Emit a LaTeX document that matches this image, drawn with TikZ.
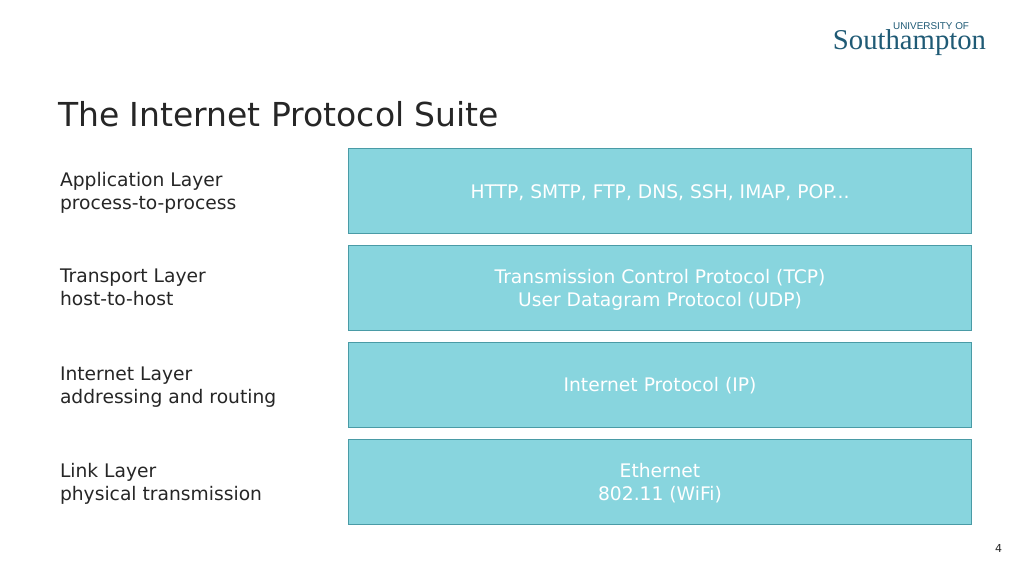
\documentclass[tikz,border=0pt]{standalone}
\usepackage{fontspec}
\setmainfont{DejaVu Sans}
\newfontfamily\logoserif{Liberation Serif}
\newfontfamily\logosans{Liberation Sans}
\usepackage{xcolor}
\usetikzlibrary{positioning}
\definecolor{layerfill}{HTML}{88D5DE}
\definecolor{layerline}{HTML}{4A9BA6}
\definecolor{logoblue}{HTML}{1F5A75}
\definecolor{titleink}{HTML}{262626}
\begin{document}
\begin{tikzpicture}[x=1pt,y=1pt,every node/.style={outer sep=0pt},
    layerbox/.style={draw=layerline,fill=layerfill,line width=1pt,minimum width=623pt,minimum height=85pt,inner sep=0pt},
    layertext/.style={text=white,align=center,font=\fontsize{18.7}{23.3}\selectfont,inner sep=0pt},
    layerlabel/.style={anchor=west,align=left,text=titleink,font=\fontsize{18.7}{23.3}\selectfont,inner sep=0pt}]
    \useasboundingbox (0,0) rectangle (1024,576);

    \node[layerbox] (app) at (660,384.5) {};
    \node[layerbox,below=11.5pt of app] (trans) {};
    \node[layerbox,below=11.5pt of trans] (inet) {};
    \node[layerbox,below=12pt of inet] (link) {};

    \node[layertext,yshift=-1.5pt] (tapp) at (app) {HTTP, SMTP, FTP, DNS, SSH, IMAP, POP...};
    \node[layertext,yshift=-1.5pt] (ttrans) at (trans) {Transmission Control Protocol (TCP)\\User Datagram Protocol (UDP)};
    \node[layertext,yshift=-1.5pt] (tinet) at (inet) {Internet Protocol (IP)};
    \node[layertext,yshift=-1.5pt] (tlink) at (link) {Ethernet\\802.11 (WiFi)};

    \node[layerlabel] (lapp) at (60,383.5) {Application Layer\\process-to-process};
    \node[layerlabel] (ltrans) at (60,289) {Transport Layer\\host-to-host};
    \node[layerlabel] (linet) at (60,189) {Internet Layer\\addressing and routing};
    \node[layerlabel] (llink) at (60,92.5) {Link Layer\\physical transmission};

    \node[anchor=base west,inner sep=0pt,text=titleink,font=\fontsize{33}{36}\selectfont] (title) at (58,449) {The Internet Protocol Suite};
    \node[anchor=base east,inner sep=0pt,font=\fontsize{11}{12}\selectfont,text=titleink] (page) at (1002,24) {4};

    \node[anchor=base east,inner sep=0pt,text=logoblue,font=\logoserif\fontsize{28.7}{32}\selectfont] (logob) at (986,526) {Southampton};
    \node[anchor=base east,inner sep=0pt,text=logoblue,font=\logosans\fontsize{9.9}{12}\selectfont] (logoa) at (969,546.5) {UNIVERSITY OF};
\end{tikzpicture}
\end{document}
